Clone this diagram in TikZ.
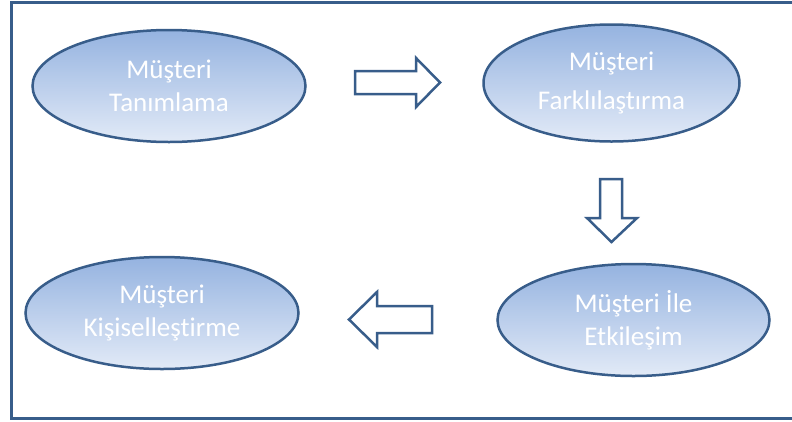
\documentclass[tikz,border=0pt]{standalone}
\usepackage{fontspec}
\setmainfont{Carlito}[Ligatures=NoCommon]
\usetikzlibrary{shapes.geometric}
\definecolor{edgec}{RGB}{56,93,138}
\definecolor{topc}{RGB}{149,179,224}
\definecolor{botc}{RGB}{226,234,247}
\begin{document}
\begin{tikzpicture}[x=1pt,y=-1pt,
  oval/.style={ellipse,draw=edgec,line width=2.5pt,top color=topc,bottom color=botc,
    text=white,align=center,inner sep=0pt,font=\fontsize{27}{33}\selectfont},
  blockarrow/.style={draw=edgec,line width=2.5pt,fill=white,line join=miter},
  frame/.style={draw=edgec,line width=3pt}]
\clip (0,0) rectangle (792,421);
\fill[white] (0,0) rectangle (792,421);
\draw[frame] (820,2) -- (11,2) -- (11,418) -- (820,418);

\node[oval,minimum width=273pt,minimum height=112pt] (tan) at (169,86) {Müşteri\\Tanımlama};
\node[oval,minimum width=256pt,minimum height=117pt,font=\fontsize{27}{39}\selectfont] (far) at (611.5,83) {Müşteri\\Farklılaştırma};
\node[oval,minimum width=272pt,minimum height=112pt] (etk) at (633.5,320) {Müşteri İle\\Etkileşim};
\node[oval,minimum width=273pt,minimum height=112pt] (kis) at (162,313) {Müşteri\\Kişiselleştirme};

\draw[blockarrow] (355,71) -- (416,71) -- (416,58) -- (440,82.5) -- (416,107) -- (416,94) -- (355,94) -- cycle;
\draw[blockarrow] (600,179) -- (622,179) -- (622,218) -- (637,218) -- (611.5,242) -- (587,218) -- (600,218) -- cycle;
\draw[blockarrow] (432,306) -- (377,306) -- (377,292) -- (349,319.5) -- (377,347) -- (377,333) -- (432,333) -- cycle;
\end{tikzpicture}
\end{document}
